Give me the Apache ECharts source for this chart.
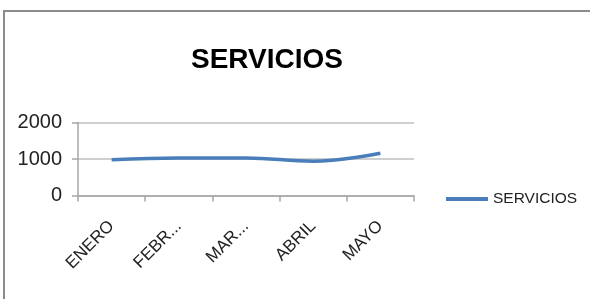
<!DOCTYPE html>
<html><head><meta charset="utf-8">
<script src="https://cdn.jsdelivr.net/npm/echarts@6/dist/echarts.min.js"></script>
<style>html,body{margin:0;padding:0;background:#fff}#c{width:590px;height:299px}</style>
</head><body><div id="c"></div>
<script>
const titleText = 'SERVICIOS';
const seriesName = 'SERVICIOS';
const categories = ['ENERO', 'FEBRERO', 'MARZO', 'ABRIL', 'MAYO'];
const tickLabels = ['ENERO', 'FEBR...', 'MAR...', 'ABRIL', 'MAYO'];
const values = [980, 1030, 1030, 940, 1160];
const yTicks = [0, 1000, 2000];

const FONT = "'Liberation Sans', Arial, sans-serif";
const chart = echarts.init(document.getElementById('c'));
chart.setOption({
  animation: false,
  backgroundColor: '#fff',
  graphic: [
    { type: 'polyline', shape: { points: [[4, 299], [4, 11], [590, 11]] },
      style: { stroke: '#8c8c8c', lineWidth: 2, fill: null } }
  ],
  title: {
    text: titleText, left: 262, top: 41, textAlign: 'center',
    textStyle: { fontFamily: FONT, fontSize: 28, fontWeight: 'bold', color: '#000' }
  },
  legend: {
    data: [seriesName], left: 441, top: 186, icon: 'rect', itemWidth: 42, itemHeight: 4, itemGap: 4,
    textStyle: { fontFamily: FONT, fontSize: 15.5, color: '#222' }
  },
  grid: { left: 78, right: 176, top: 122.5, bottom: 103.5, containLabel: false },
  xAxis: {
    type: 'category', data: categories, boundaryGap: true,
    axisLine: { lineStyle: { color: '#a6a6a6', width: 1.5 } },
    axisTick: { show: true, length: 6, lineStyle: { color: '#a6a6a6', width: 1.5 } },
    axisLabel: {
      rotate: 45, margin: 28, fontFamily: FONT, fontSize: 17, color: '#222',
      formatter: (v, i) => tickLabels[i]
    }
  },
  yAxis: {
    type: 'value', min: yTicks[0], max: yTicks[yTicks.length - 1], interval: 1000,
    axisLine: { show: true, lineStyle: { color: '#a6a6a6', width: 1.5 } },
    axisTick: { show: true, length: 6, lineStyle: { color: '#a6a6a6', width: 1.5 } },
    splitLine: { lineStyle: { color: '#bfbfbf', width: 1.5 } },
    axisLabel: { margin: 16, fontFamily: FONT, fontSize: 20, color: '#222', formatter: v => String(v) }
  },
  series: [{
    name: seriesName, type: 'line', data: values, smooth: 0.4, symbol: 'none',
    lineStyle: { color: '#4a7ebb', width: 3.5 }, itemStyle: { color: '#4a7ebb' }
  }]
});
</script></body></html>
